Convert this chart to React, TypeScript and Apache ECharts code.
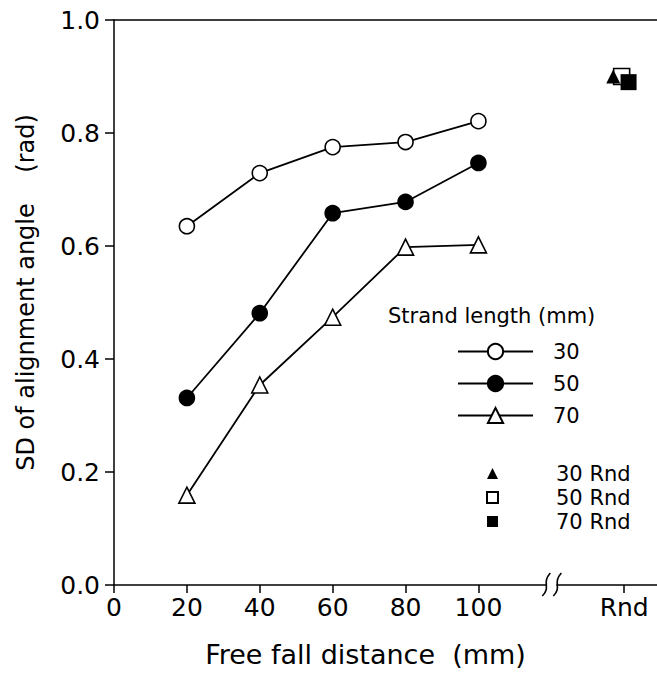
import { useEffect, useRef } from "react";
import * as echarts from "echarts";

// ---- data ----
const distances = [20, 40, 60, 80, 100];
const sd30 = [0.635, 0.729, 0.775, 0.784, 0.821];
const sd50 = [0.331, 0.481, 0.658, 0.678, 0.747];
const sd70 = [0.159, 0.354, 0.474, 0.598, 0.602];
const rndPos = 140; // x position of the "Rnd" column
const rnd30 = [137.0, 0.9];
const rnd50 = [139.3, 0.9];
const rnd70 = [141.2, 0.89];
const xTickValues = [0, 20, 40, 60, 80, 100, rndPos];
const rndLabel = "Rnd";
const breakAt = 120;
const lineNames = ["30", "50", "70"];
const rndNames = ["30 Rnd", "50 Rnd", "70 Rnd"];

const FONT = "DejaVu Sans";
const BLACK = "#000";

export default function App() {
  const ref = useRef<HTMLDivElement>(null);
  useEffect(() => {
    if (!ref.current) return;
    const chart = echarts.init(ref.current, null, { renderer: "svg" });
    const pair = (xs: number[], ys: number[]) => xs.map((x, i) => [x, ys[i]]);
    const lineSeries = (name: string, ys: number[], symbol: string, fill: string, size: number) => ({
      name,
      type: "line",
      data: pair(distances, ys),
      symbol,
      symbolSize: size,
      showAllSymbol: true,
      lineStyle: { color: BLACK, width: 1.8 },
      itemStyle: { color: fill, borderColor: BLACK, borderWidth: 1.6, opacity: 1 },
      z: 3,
    });
    chart.setOption({
      animation: false,
      backgroundColor: "#fff",
      textStyle: { fontFamily: FONT, color: BLACK },
      title: {
        text: "Strand length (mm)",
        left: 388,
        top: 305,
        padding: 0,
        textStyle: { fontFamily: FONT, fontSize: 21, fontWeight: "normal", color: BLACK },
      },
      grid: { left: 114, right: 0, top: 20, bottom: 96, containLabel: false },
      legend: [
        {
          data: lineNames,
          orient: "vertical",
          left: 457,
          top: 341,
          padding: 0,
          itemWidth: 75,
          itemHeight: 19,
          itemGap: 11,
          textStyle: { fontFamily: FONT, fontSize: 21, color: BLACK, padding: [0, 0, 0, 15] },
          selectedMode: false,
        },
        {
          data: rndNames,
          orient: "vertical",
          left: 486,
          top: 463,
          padding: 0,
          itemWidth: 11,
          itemHeight: 11,
          itemGap: 3,
          textStyle: { fontFamily: FONT, fontSize: 21, color: BLACK, padding: [0, 0, 0, 53] },
          selectedMode: false,
        },
      ],
      xAxis: [
        {
          type: "value",
          min: 0,
          max: 149,
          interval: 20,
          position: "bottom",
          name: "Free fall distance  (mm)",
          nameLocation: "middle",
          nameGap: 56,
          nameTextStyle: { fontFamily: FONT, fontSize: 27, color: BLACK, padding: [0, 40, 0, 0] },
          axisLine: { show: true, onZero: false, lineStyle: { color: BLACK, width: 1.5 } },
          axisTick: { show: true, length: 8, lineStyle: { color: BLACK, width: 1.5 }, customValues: xTickValues },
          axisLabel: {
            fontFamily: FONT,
            fontSize: 25,
            color: BLACK,
            margin: 10,
            customValues: xTickValues,
            formatter: (v: number) => (v === rndPos ? rndLabel : String(v)),
          },
          splitLine: { show: false },
        },
        {
          type: "value",
          min: 0,
          max: 149,
          position: "top",
          axisLine: { show: true, onZero: false, lineStyle: { color: BLACK, width: 1.5 } },
          axisTick: { show: false },
          axisLabel: { show: false },
          splitLine: { show: false },
        },
      ],
      yAxis: {
        type: "value",
        min: 0,
        max: 1,
        interval: 0.2,
        name: "SD of alignment angle    (rad)",
        nameLocation: "middle",
        nameGap: 76,
        nameTextStyle: { fontFamily: FONT, fontSize: 24, color: BLACK, padding: [0, 0, 0, 20] },
        axisLine: { show: true, onZero: false, lineStyle: { color: BLACK, width: 1.5 } },
        axisTick: { show: true, length: 9, lineStyle: { color: BLACK, width: 1.5 } },
        axisLabel: {
          fontFamily: FONT,
          fontSize: 25,
          color: BLACK,
          margin: 14,
          formatter: (v: number) => v.toFixed(1),
        },
        splitLine: { show: false },
      },
      series: [
        lineSeries(lineNames[0], sd30, "circle", "#fff", 15),
        lineSeries(lineNames[1], sd50, "circle", BLACK, 15),
        lineSeries(lineNames[2], sd70, "triangle", "#fff", 16),
        {
          name: rndNames[1],
          type: "scatter",
          data: [rnd50],
          symbol: "rect",
          symbolSize: 16,
          itemStyle: { color: "#fff", borderColor: BLACK, borderWidth: 1.6, opacity: 1 },
          z: 4,
        },
        {
          name: rndNames[2],
          type: "scatter",
          data: [rnd70],
          symbol: "rect",
          symbolSize: 16,
          itemStyle: { color: BLACK, borderColor: BLACK, borderWidth: 0, opacity: 1 },
          z: 5,
        },
        {
          name: rndNames[0],
          type: "scatter",
          data: [rnd30],
          symbol: "triangle",
          symbolSize: 14,
          itemStyle: { color: BLACK, borderColor: BLACK, borderWidth: 0, opacity: 1 },
          z: 6,
        },
      ],
    });

    // axis break mark, positioned through the axis scale
    const p = chart.convertToPixel({ xAxisIndex: 0, yAxisIndex: 0 }, [breakAt, 0]) as number[];
    const bx = p[0];
    const by = p[1];
    const stroke = (cx: number) => ({
      type: "bezierCurve",
      shape: { x1: cx + 4, y1: by - 12, cpx1: cx - 5, cpy1: by - 2, cpx2: cx + 5, cpy2: by + 2, x2: cx - 4, y2: by + 11 },
      style: { stroke: BLACK, lineWidth: 1.6, fill: null },
      z: 10,
    });
    chart.setOption({
      graphic: [
        { type: "rect", shape: { x: bx - 5, y: by - 3, width: 10, height: 6 }, style: { fill: "#fff" }, z: 9 },
        stroke(bx - 5),
        stroke(bx + 6),
      ],
    });

    return () => chart.dispose();
  }, []);
  return <div ref={ref} style={{ position: "fixed", left: 0, top: 0, width: 657, height: 681 }} />;
}
